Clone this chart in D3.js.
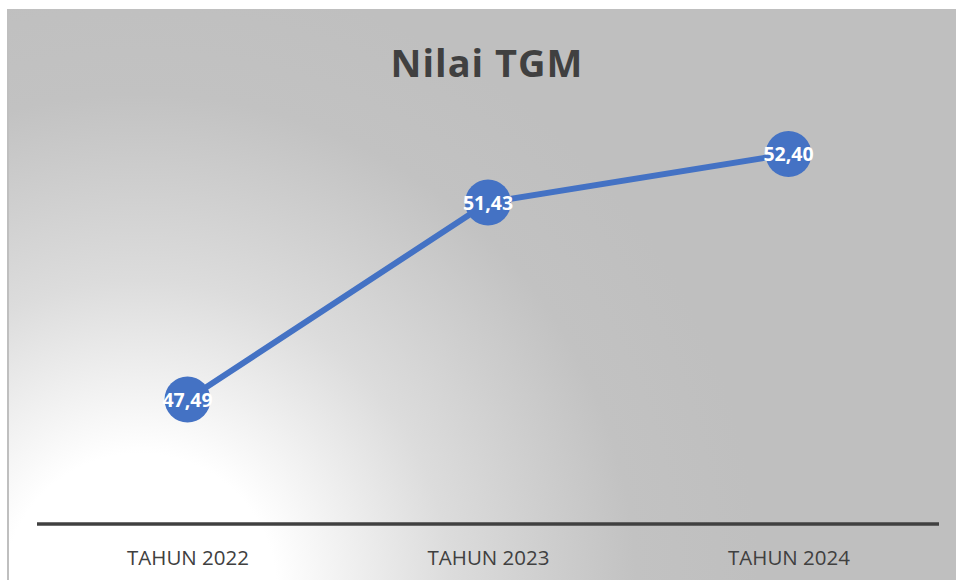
<!DOCTYPE html>
<html><head><meta charset="utf-8">
<script src="https://cdn.jsdelivr.net/npm/d3@7"></script>
<style>html,body{margin:0;padding:0;background:#fff;}svg{display:block;}</style>
</head><body>
<script>
const categories = ["TAHUN 2022", "TAHUN 2023", "TAHUN 2024"];
const values = [47.49, 51.43, 52.40];
const valueLabels = ["47,49", "51,43", "52,40"];
const title = "Nilai TGM";

const W = 956, H = 580;
const svg = d3.select("body").append("svg").attr("width", W).attr("height", H);
const defs = svg.append("defs");
const grad = defs.append("radialGradient").attr("id", "bg")
  .attr("gradientUnits", "userSpaceOnUse")
  .attr("cx", 140).attr("cy", 590).attr("r", 620);
grad.append("stop").attr("offset", "0").attr("stop-color", "#ffffff");
grad.append("stop").attr("offset", "0.22").attr("stop-color", "#ffffff");
grad.append("stop").attr("offset", "0.5").attr("stop-color", "#dcdcdc");
grad.append("stop").attr("offset", "0.8").attr("stop-color", "#c2c2c2");
grad.append("stop").attr("offset", "1").attr("stop-color", "#bfbfbf");

svg.append("rect").attr("x", 7).attr("y", 9).attr("width", W - 7).attr("height", H - 9)
  .attr("fill", "url(#bg)");
svg.append("line").attr("x1", 8).attr("x2", 8).attr("y1", 9).attr("y2", H)
  .attr("stroke", "#bfbfbf").attr("stroke-width", 2);

const x = d3.scalePoint().domain(categories).range([187.5, 788.5]);
const y = d3.scaleLinear().domain([45, 54]).range([524, 74]);

svg.append("text").attr("x", 487).attr("y", 77).attr("text-anchor", "middle")
  .attr("font-family", "'Open Sans', 'Noto Sans', sans-serif").attr("font-weight", "bold")
  .attr("font-size", 38).attr("letter-spacing", 1).attr("fill", "#404040").text(title);

// axis
const axisG = svg.append("g").attr("transform", "translate(0,524)");
const axis = d3.axisBottom(x).tickSize(0).tickPadding(0);
axisG.call(axis);
axisG.select(".domain").remove();
axisG.append("line").attr("x1", 37).attr("x2", 939).attr("y1", 0).attr("y2", 0)
  .attr("stroke", "#404040").attr("stroke-width", 3.5);
axisG.selectAll(".tick text").attr("y", 41).attr("dy", 0)
  .attr("font-family", "'Open Sans', 'Noto Sans', sans-serif").attr("font-size", 20.5)
  .attr("fill", "#404040");

const data = categories.map((c, i) => ({c, v: values[i], l: valueLabels[i]}));
svg.append("path").datum(data)
  .attr("d", d3.line().x(d => x(d.c)).y(d => y(d.v)))
  .attr("fill", "none").attr("stroke", "#4472c4").attr("stroke-width", 6)
  .attr("stroke-linejoin", "round");
svg.selectAll("circle.pt").data(data).enter().append("circle")
  .attr("cx", d => x(d.c)).attr("cy", d => y(d.v)).attr("r", 23)
  .attr("fill", "#4472c4");
svg.selectAll("text.lbl").data(data).enter().append("text")
  .attr("x", d => x(d.c)).attr("y", d => y(d.v) + 7).attr("text-anchor", "middle")
  .attr("font-family", "'Open Sans', 'Noto Sans', sans-serif").attr("font-weight", "bold")
  .attr("font-size", 19.5).attr("fill", "#ffffff").text(d => d.l);
</script>
</body></html>
